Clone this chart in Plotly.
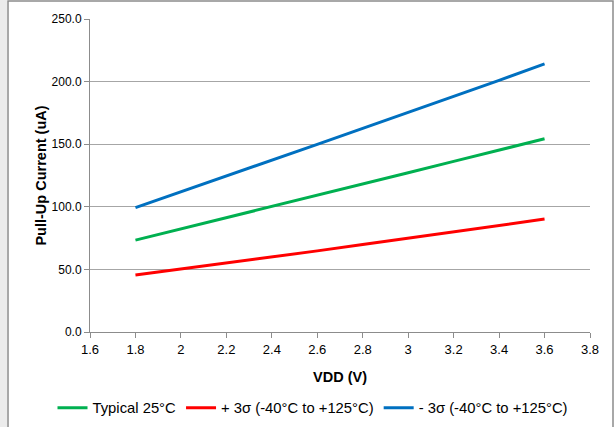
import plotly.graph_objects as go

# supply voltage (V)
vdd = [1.8, 2.0, 2.2, 2.4, 2.6, 2.8, 3.0, 3.2, 3.4, 3.6]

# pull-up current (uA)
typical_25c = [73.4, 82.3, 91.2, 100.1, 109.0, 118.0, 127.2, 136.3, 145.3, 154.3]
plus_3sigma = [45.5, 50.2, 55.0, 59.9, 64.8, 69.8, 74.9, 80.0, 85.1, 90.2]
minus_3sigma = [99.4, 111.9, 124.5, 137.2, 149.9, 162.6, 175.3, 188.0, 201.0, 214.1]

names = ["Typical 25°C", "+ 3σ (-40°C to +125°C)", "- 3σ (-40°C to +125°C)"]
colors = ["#00b050", "#ff0000", "#0070c0"]

fig = go.Figure()
for name, ys, col in zip(names, [typical_25c, plus_3sigma, minus_3sigma], colors):
    fig.add_trace(go.Scatter(x=vdd, y=ys, name=name, mode="lines",
                             line=dict(color=col, width=3)))

# outer chart frame + light strip on the left, as in the reference
fig.add_shape(type="rect", xref="paper", yref="paper", x0=-0.18, x1=-0.166,
              y0=-0.35, y1=1.07, fillcolor="#ececec", line_width=0, layer="below")
fig.add_shape(type="rect", xref="paper", yref="paper", x0=-0.164, x1=1.046,
              y0=-0.33, y1=1.0575, line=dict(color="#8c8c8c", width=1.5),
              fillcolor="rgba(0,0,0,0)")

fig.update_layout(
    width=616, height=427,
    margin=dict(l=90, r=26, t=19, b=95, autoexpand=False),
    paper_bgcolor="white", plot_bgcolor="white",
    font=dict(family="Liberation Sans, Arial", size=12, color="black"),
    showlegend=True,
    legend=dict(orientation="h", x=-0.075, xanchor="left", y=-0.243, yanchor="middle",
                font=dict(size=14.8), itemwidth=30, tracegroupgap=0),
)
fig.update_xaxes(range=[1.6, 3.8], dtick=0.2, tick0=1.6, showgrid=False,
                 showline=True, linecolor="#8c8c8c", linewidth=1,
                 ticks="outside", ticklen=5, tickcolor="#8c8c8c",
                 tickfont=dict(size=13), zeroline=False, automargin=False,
                 title=dict(text="<b>VDD (V)</b>", font=dict(size=14.5), standoff=16))
fig.update_yaxes(range=[0, 250], dtick=50, tickformat=".1f",
                 showgrid=True, gridcolor="#a6a6a6", gridwidth=1,
                 showline=True, linecolor="#8c8c8c", linewidth=1,
                 ticks="outside", ticklen=5, tickcolor="#8c8c8c",
                 tickfont=dict(size=12), zeroline=False, automargin=False,
                 title=dict(text="<b>Pull-Up Current (uA)</b>", font=dict(size=14.5), standoff=1))

# drop the default page margin so the figure sits at the window's corner
fig.write_html("out.html", config={"displayModeBar": False},
               post_script="document.body.style.margin='0';")
